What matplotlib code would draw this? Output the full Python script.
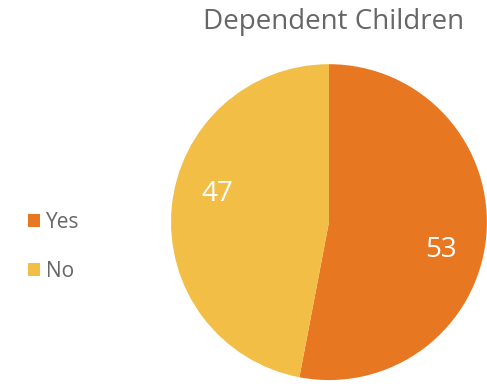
import numpy as np
import matplotlib.pyplot as plt

plt.rcParams['font.family'] = ['Open Sans', 'DejaVu Sans']

labels = ["Yes", "No"]
values = [53, 47]
colors = ["#E87722", "#F2BE45"]
title = "Dependent Children"

fig = plt.figure(figsize=(4.87, 3.89), dpi=100)
ax = fig.add_axes([0.351, 0.023, 0.649, 0.812])

wedges, _ = ax.pie(values, colors=colors, startangle=90, counterclock=False,
                   wedgeprops=dict(linewidth=0))
ax.set_xlim(-1, 1)
ax.set_ylim(-1, 1)
ax.set_aspect("equal")

# value labels, Excel-style placement slightly clockwise of the wedge middle
for w, v in zip(wedges, values):
    mid = np.deg2rad((w.theta1 + w.theta2) / 2 - 8.6)
    ax.text(0.73 * np.cos(mid), 0.73 * np.sin(mid), str(v), color="white",
            fontsize=20, ha="center", va="center")

fig.text(0.685, 0.943, title, fontsize=20, color="#666666", ha="center", va="center")

leg = fig.legend(wedges, labels, loc="center left", bbox_to_anchor=(0.018, 0.365),
                 frameon=False, fontsize=15, handlelength=0.6, handleheight=0.6,
                 handletextpad=0.3, labelspacing=1.35, labelcolor="#666666")

fig.savefig("out.png", dpi=100)
